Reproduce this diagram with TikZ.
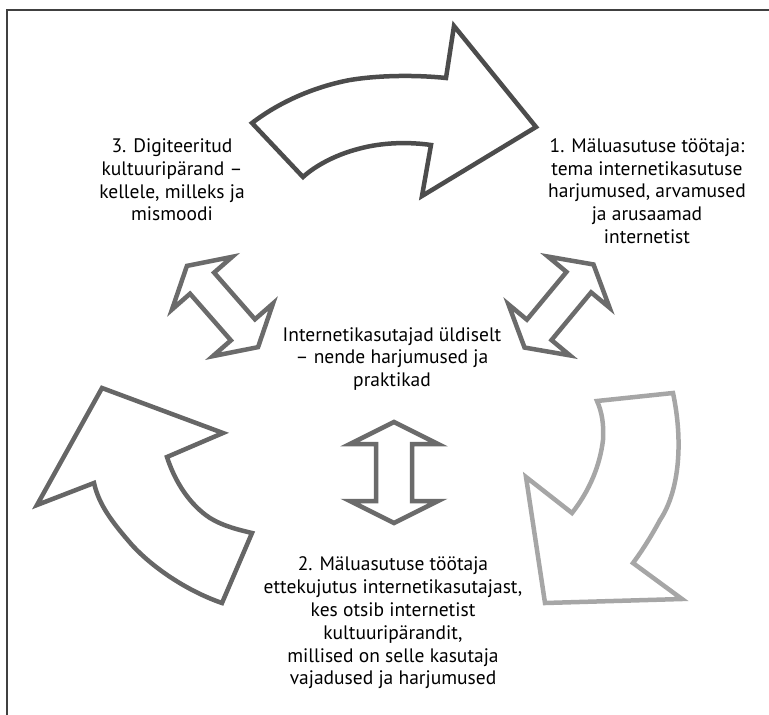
\documentclass[tikz,border=0pt]{standalone}
\usepackage{fontspec}
\setmainfont{PT Sans}
\begin{document}
\begin{tikzpicture}[x=1pt,y=-1pt,
  framel/.style={draw=black!75,line width=1.3pt},
  bigarrow/.style={line width=4.5pt,line join=miter,fill=white},
  dbl/.style={draw=black!58,line width=4.5pt,line join=miter,fill=white},
  txt/.style={align=center,inner sep=0pt,font=\fontsize{19.5}{22.8}\selectfont}]
\useasboundingbox (0,0) rectangle (769,715);
% frame
\draw[framel] (7,715) -- (7,10) -- (769,10);
% top arrow (3 -> 1)
\draw[bigarrow,draw=black!70] (252,123) .. controls (282,100) and (318,86) .. (350,80)
  .. controls (380,75) and (418,75) .. (446,78) -- (454,26) -- (536,127) -- (422,196)
  -- (431,145) .. controls (410,142) and (383,142) .. (358,149)
  .. controls (335,155) and (315,166) .. (303,177) -- cycle;
% right arrow (1 -> 2)
\draw[bigarrow,draw=black!35] (597,401) -- (673,393) .. controls (683,440) and (680,490) .. (660,520)
  .. controls (652,535) and (642,551) .. (633,563) -- (682,599) -- (545,603) -- (526,477)
  -- (572,513) .. controls (590,490) and (600,465) .. (603,440)
  .. controls (604,425) and (602,412) .. (597,401) -- cycle;
% left arrow (2 -> 3)
\draw[bigarrow,draw=black!60] (102,388) -- (223,433) -- (167,457)
  .. controls (175,482) and (190,505) .. (210,518)
  .. controls (225,527) and (240,530) .. (252,533) -- (222,603)
  .. controls (190,592) and (155,570) .. (132,545)
  .. controls (112,522) and (99,505) .. (94,483) -- (37,505) -- cycle;
% double arrows
\newcommand\dblarr[7]{%
  \draw[dbl,shift={(#1,#2)},rotate=#3]
    ({-#4},0) -- ({-#4+#5},#6) -- ({-#4+#5},#7) -- ({#4-#5},#7) -- ({#4-#5},#6)
    -- ({#4},0) -- ({#4-#5},{-#6}) -- ({#4-#5},{-#7}) -- ({-#4+#5},{-#7})
    -- ({-#4+#5},{-#6}) -- cycle;}
\dblarr{222.5}{306.5}{-48.8}{54}{23}{40}{16}
\dblarr{559}{306}{50.3}{54}{23}{40}{16}
\dblarr{394}{472.5}{90}{50.5}{22}{44}{18}
% texts
\node[txt] (t3) at (172,180) {3. Digiteeritud\\kultuuripärand –\\kellele, milleks ja\\mismoodi};
\node[txt] (t1) at (647,191) {1. Mäluasutuse töötaja:\\tema internetikasutuse\\harjumused, arvamused\\ja arusaamad\\internetist};
\node[txt] (tc) at (392,359) {Internetikasutajad üldiselt\\– nende harjumused ja\\praktikad};
\node[txt] (t2) at (393,623) {2. Mäluasutuse töötaja\\ettekujutus internetikasutajast,\\kes otsib internetist\\kultuuripärandit,\\millised on selle kasutaja\\vajadused ja harjumused};
\end{tikzpicture}
\end{document}
